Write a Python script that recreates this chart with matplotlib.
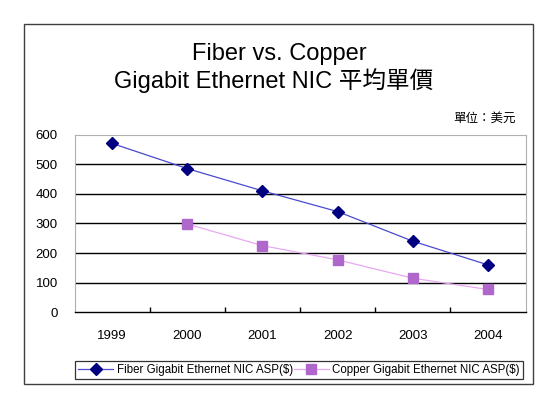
import matplotlib
matplotlib.use("Agg")
import matplotlib.pyplot as plt
from matplotlib.patches import Rectangle
import numpy as np

plt.rcParams['font.family'] = ['Liberation Sans', 'Noto Sans CJK TC', 'DejaVu Sans']

# data
years = ['1999', '2000', '2001', '2002', '2003', '2004']
fiber = [570, 485, 410, 340, 240, 160]
copper = [np.nan, 298, 225, 177, 115, 77]
yticks = [0, 100, 200, 300, 400, 500, 600]

fig = plt.figure(figsize=(5.5, 3.95), dpi=100)

# outer chart frame
fig.patches.append(Rectangle((0.0436, 0.028), 0.925, 0.910, transform=fig.transFigure,
                             fill=False, edgecolor='#404040', linewidth=1.0))

ax = fig.add_axes([0.1355, 0.2094, 0.82, 0.450])
x = np.arange(len(years))
ax.plot(x, fiber, color='#4a4ad0', linewidth=0.9, marker='D', markersize=6,
        markerfacecolor='#000080', markeredgecolor='#000080',
        label='Fiber Gigabit Ethernet NIC ASP($)')
ax.plot(x, copper, color='#e8a8f4', linewidth=0.9, marker='s', markersize=7,
        markerfacecolor='#b067cc', markeredgecolor='#b067cc',
        label='Copper Gigabit Ethernet NIC ASP($)')

ax.set_xlim(-0.5, len(years) - 0.5)
ax.set_ylim(0, 600)
ax.set_yticks(yticks)
ax.set_yticklabels([str(v) for v in yticks], fontsize=9.5)
for v in yticks[1:-1]:
    ax.axhline(v, color='black', linewidth=1.0, zorder=0)

ax.set_xticks(x)
ax.set_xticklabels(years, fontsize=9.5)
ax.set_xticks(np.arange(0.5, len(years) - 1, 1), minor=True)
ax.tick_params(axis='x', which='major', length=0, pad=13)
ax.tick_params(axis='x', which='minor', direction='in', length=3.5, width=1, color='black')
ax.tick_params(axis='y', length=0, pad=12)

for s in ['top', 'left', 'right']:
    ax.spines[s].set_color('#b0b0b0')
    ax.spines[s].set_linewidth(0.8)
ax.spines['bottom'].set_color('black')
ax.spines['bottom'].set_linewidth(1.0)

fig.text(0.508, 0.848, 'Fiber vs. Copper', ha='center', va='baseline', fontsize=17)
fig.text(0.497, 0.777, 'Gigabit Ethernet NIC 平均單價', ha='center', va='baseline', fontsize=17)
fig.text(0.881, 0.701, '單位：美元', ha='center', va='center', fontsize=9,
         family=['Noto Sans CJK TC'])

leg = fig.legend(loc='center', bbox_to_anchor=(75 / 550, 1 - 381 / 395, 448 / 550, 22 / 395),
                 mode='expand', ncol=2, fontsize=8.3, frameon=True, fancybox=False,
                 edgecolor='black', handlelength=3, columnspacing=1.0,
                 handletextpad=0.3, borderpad=0.3, borderaxespad=0)
leg.get_frame().set_linewidth(0.9)

fig.savefig('out.png', dpi=100)
